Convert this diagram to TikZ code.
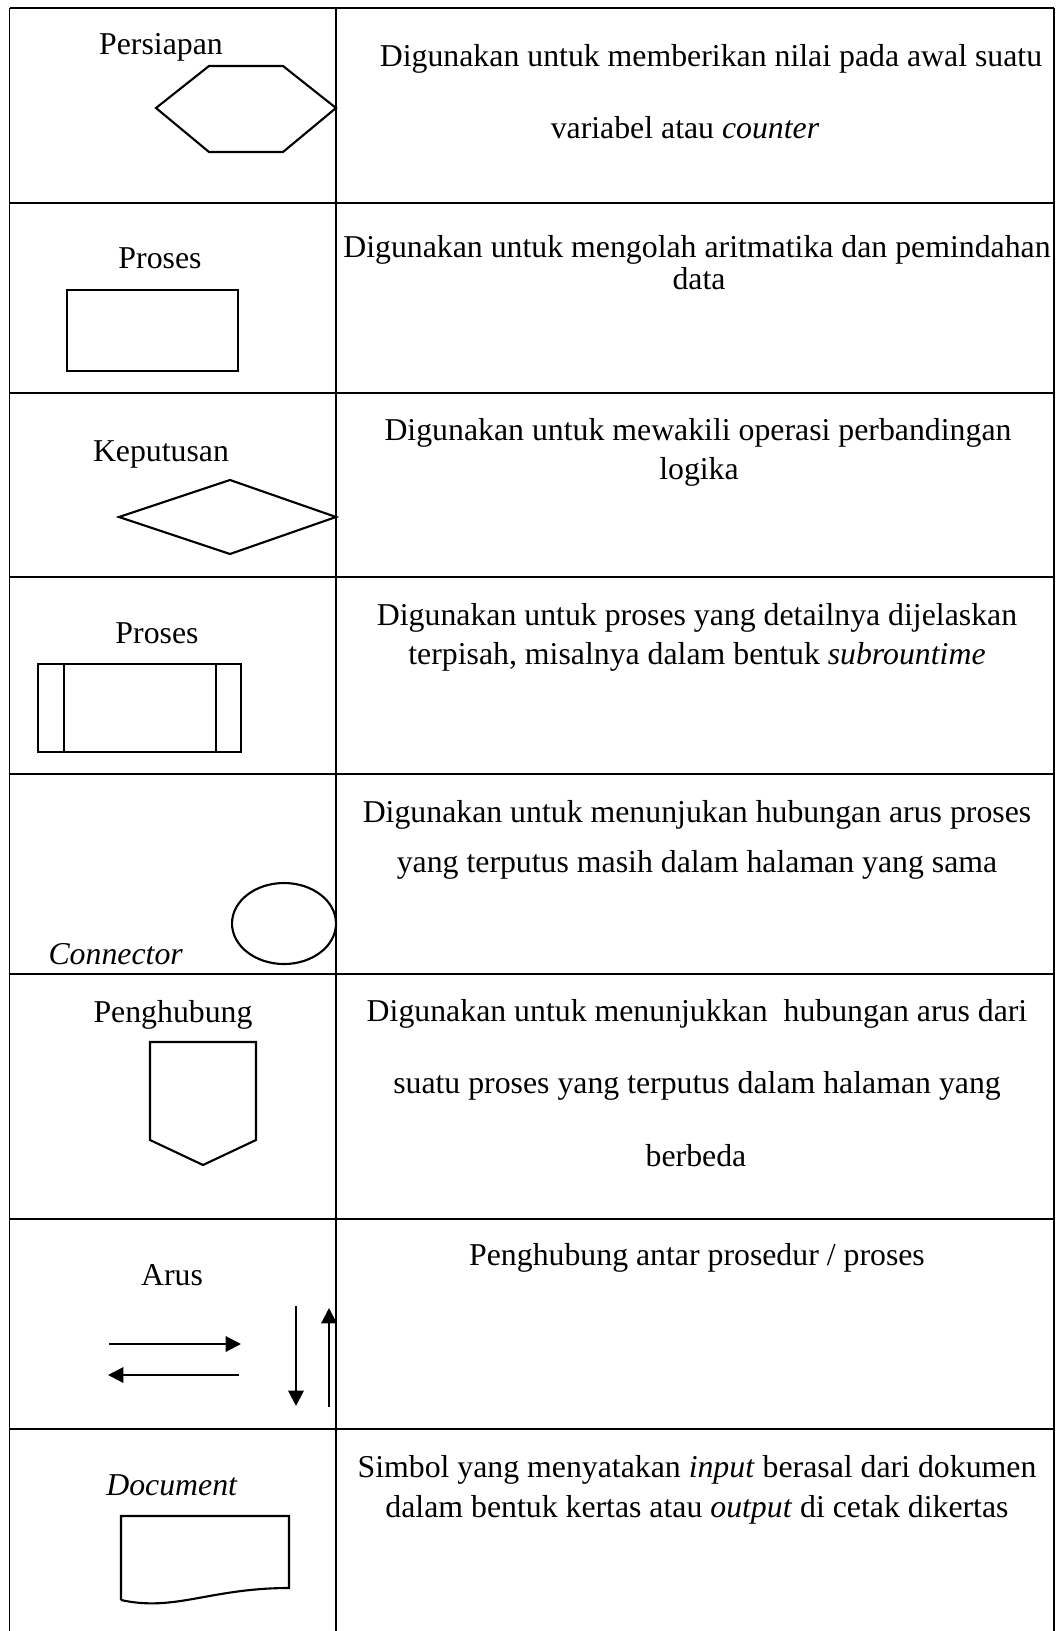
\documentclass[tikz,border=0pt]{standalone}
\usepackage{fontspec}
\setmainfont{Liberation Serif}
\usetikzlibrary{
  	positioning,
  	arrows.meta,
  	calc
  }
\tikzstyle{tbl}=[line width=0.55pt]
\tikzstyle{sym}=[line width=0.8pt, line join=miter]
\tikzstyle{lbl}=[anchor=base, inner sep=0pt]
\tikzstyle{desc}=[anchor=base, inner sep=0pt]
\tikzstyle{flow}=[line width=0.8pt, -{Triangle[length=5.8pt, width=5.8pt]}]

\begin{document}
\begin{tikzpicture}[x=0.3774pt, y=-0.3774pt, font=\large]
	\useasboundingbox[fill=white] (0,0) rectangle (1059,1631);
	\draw[tbl] (9.5,8) -- (1054,8);
	\draw[tbl] (9.5,203) -- (1054,203);
	\draw[tbl] (9.5,393) -- (1054,393);
	\draw[tbl] (9.5,577) -- (1054,577);
	\draw[tbl] (9.5,774) -- (1054,774);
	\draw[tbl] (9.5,974) -- (1054,974);
	\draw[tbl] (9.5,1219) -- (1054,1219);
	\draw[tbl] (9.5,1429) -- (1054,1429);
	\draw[tbl] (9.5,8) -- (9.5,1631);
	\draw[tbl] (336,8) -- (336,1631);
	\draw[tbl] (1054,8) -- (1054,1631);
  	\node[lbl] (persiapan) at (161,55) {Persiapan};
	\node[lbl] (proses) at (160,269) {Proses};
	\node[lbl] (keputusan) at (161,461) {Keputusan};
	\node[lbl] (subproses) at (157,643) {Proses};
	\node[lbl, anchor=base west] (konektor) at (48,964) {\textit{Connector}};
	\node[lbl] (penghubung) at (173,1022) {Penghubung};
	\node[lbl] (arus) at (172,1285) {Arus};
	\node[lbl] (dokumen) at (172,1495) {\textit{Document}};
	\node[desc] (d1a) at (711,67) {Digunakan untuk memberikan nilai pada awal suatu};
	\node[desc] (d1b) at (685,139) {variabel atau \textit{counter}};
	\node[desc] (d2a) at (697,258) {Digunakan untuk mengolah aritmatika dan pemindahan};
	\node[desc] (d2b) at (699,290) {data};
	\node[desc] (d3a) at (698,440) {Digunakan untuk mewakili operasi perbandingan};
	\node[desc] (d3b) at (699,480) {logika};
	\node[desc] (d4a) at (697,625) {Digunakan untuk proses yang detailnya dijelaskan};
	\node[desc] (d4b) at (697,664) {terpisah, misalnya dalam bentuk \textit{subrountime}};
	\node[desc] (d5a) at (697,822) {Digunakan untuk menunjukan hubungan arus proses};
	\node[desc] (d5b) at (697,872) {yang terputus masih dalam halaman yang sama};
	\node[desc] (d6a) at (697,1021) {Digunakan untuk menunjukkan\ \ hubungan arus dari};
	\node[desc] (d6b) at (697,1093) {suatu proses yang terputus dalam halaman yang};
	\node[desc] (d6c) at (696,1166) {berbeda};
	\node[desc] (d7a) at (697,1265) {Penghubung antar prosedur / proses};
	\node[desc] (d8a) at (697,1477) {Simbol yang menyatakan \textit{input} berasal dari dokumen};
	\node[desc] (d8b) at (697,1517) {dalam bentuk kertas atau \textit{output} di cetak dikertas};
	\draw[sym] (156,108) -- (209,66) -- (283,66) -- (336,108) -- (283,152) -- (209,152) -- cycle;
	\draw[sym] (67,290) rectangle (238,371);
	\draw[sym] (119,517) -- (230,480) -- (336,517) -- (230,554) -- cycle;
	\draw[sym] (38,664) rectangle (241,752);
	\draw[sym] (64,664) -- (64,752);
	\draw[sym] (216,664) -- (216,752);
	\draw[sym] (284,923.5) ellipse [x radius=52, y radius=40.5];
	\draw[sym] (150,1042) -- (256,1042) -- (256,1140) -- (203,1165) -- (150,1140) -- cycle;
	\coordinate (r0) at (109,1344);
	\coordinate (r1) at (241,1344);
	\coordinate (l0) at (239,1375);
	\coordinate (l1) at (108,1375);
	\coordinate (t0) at (296,1306);
	\coordinate (t1) at (296,1406);
	\coordinate (u0) at (329,1407);
	\coordinate (u1) at (329,1308);
	\draw[flow] (r0) -- (r1);
	\draw[flow] (l0) -- (l1);
	\draw[flow] (t0) -- (t1);
	\draw[flow] (u0) -- (u1);
	\draw[sym] (121,1600) -- (121,1516) -- (289,1516) -- (289,1588) .. controls (210,1588) and (175,1612) .. (121,1600);
\end{tikzpicture}
\end{document}
